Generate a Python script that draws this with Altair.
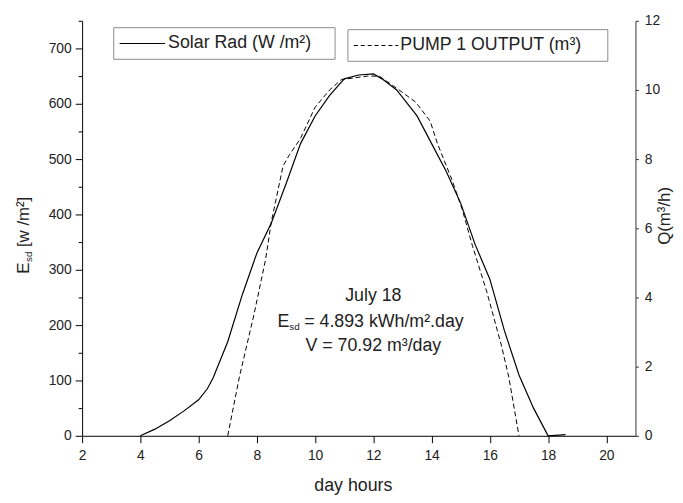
import altair as alt
import pandas as pd

# ---- data ----
solar_hours = [4, 4.5, 5, 5.5, 6, 6.3, 6.5, 7, 7.5, 8, 8.5, 9, 9.5, 10, 10.5, 11,
               11.5, 12, 12.3, 12.8, 13.5, 14, 14.5, 15, 15.5, 16, 16.5, 17, 17.5, 18, 18.6]
solar_wm2 = [0, 12, 27, 45, 65, 85, 105, 170, 255, 330, 385, 455, 528, 578, 615, 645,
             652, 654, 645, 625, 578, 528, 478, 420, 345, 283, 190, 110, 50, 0, 2]

pump_hours = [7, 7.4, 7.9, 8.3, 8.5, 8.9, 9.1, 9.5, 10, 10.5, 10.9, 11.8, 12.2, 12.8,
              13.45, 13.95, 14.2, 14.7, 15.05, 15.4, 15.9, 16.4, 16.65, 17]
pump_m3h = [0, 1.7, 3.5, 5.1, 6.2, 7.8, 8.1, 8.6, 9.5, 10.0, 10.3, 10.4, 10.4, 10.05,
            9.65, 9.1, 8.45, 7.4, 6.55, 5.5, 4.15, 2.6, 1.7, 0]

x_ticks = list(range(2, 22))
left_ticks = list(range(0, 751, 50))
right_ticks = [0, 2, 4, 6, 8, 10, 12]

annot_lines = ["July 18", "V = 70.92 m\u00b3/day"]
annot_y = [252, 162]
esd_value_text = "= 4.893 kWh/m\u00b2.day"
esd_y = [205]

legend_labels = ["Solar Rad (W  /m\u00b2)", "PUMP 1 OUTPUT (m\u00b3)"]

FONT = "Liberation Sans"
TXT = "#222222"

solar_df = pd.DataFrame({"hour": solar_hours, "W": solar_wm2})
pump_df = pd.DataFrame({"hour": pump_hours, "Q": pump_m3h})

x_scale = alt.Scale(domain=[2, 21], nice=False, zero=False)
left_scale = alt.Scale(domain=[0, 750], nice=False)
right_scale = alt.Scale(domain=[0, 12], nice=False)

x_axis = alt.Axis(
    values=x_ticks,
    labelExpr="datum.value % 2 == 0 && datum.value <= 20 ? datum.label : ''",
    tickSize={"condition": {"test": "datum.value % 2 == 0", "value": 7}, "value": 5},
    labelPadding=6, labelOverlap=False, labelFlush=False,
    grid=False, domainColor="black", tickColor="black",
    title="day hours", titleFont=FONT, titleFontSize=18, titleFontWeight="normal",
    titleColor=TXT, titleX=274, titleY=50, titleAlign="center", titleBaseline="middle",
)

left_axis = alt.Axis(
    values=left_ticks,
    labelExpr="datum.value % 100 == 0 && datum.value <= 700 ? datum.label : ''",
    tickSize={"condition": {"test": "datum.value % 100 == 0", "value": 7}, "value": 4},
    labelPadding=4, labelOverlap=False, labelFlush=False,
    grid=False, domainColor="black", tickColor="black", title=None,
)

right_axis = alt.Axis(
    orient="right", values=right_ticks, tickSize=3, labelPadding=6,
    labelOverlap=False, labelFlush=False, grid=False,
    domainColor="#333333", tickColor="#333333",
    title="Q(m\u00b3/h)", titleFont=FONT, titleFontSize=17, titleFontWeight="normal",
    titleColor=TXT, titleAngle=270, titleX=29, titleY=197,
    titleAlign="center", titleBaseline="middle",
)

solar = alt.Chart(solar_df).mark_line(color="black", strokeWidth=1.2).encode(
    x=alt.X("hour:Q", scale=x_scale, axis=x_axis),
    y=alt.Y("W:Q", scale=left_scale, axis=left_axis),
)

pump = alt.Chart(pump_df).mark_line(color="black", strokeWidth=1, strokeDash=[5, 3]).encode(
    x=alt.X("hour:Q", scale=x_scale),
    y=alt.Y("Q:Q", scale=right_scale, axis=right_axis),
)

annot_df = pd.DataFrame({"hour": [12, 12], "W": annot_y, "t": annot_lines})
annot = alt.Chart(annot_df).mark_text(font=FONT, fontSize=18, color=TXT, baseline="middle").encode(
    x=alt.X("hour:Q", scale=x_scale),
    y=alt.Y("W:Q", scale=left_scale, axis=None),
    text="t:N",
)

esd_df = pd.DataFrame({"hour": [12], "W": esd_y})
def esd_piece(txt, dx, dy, size):
    return alt.Chart(esd_df).mark_text(
        font=FONT, fontSize=size, color=TXT, align="left", baseline="middle",
        dx=dx, dy=dy, text=txt,
    ).encode(
        x=alt.X("hour:Q", scale=x_scale),
        y=alt.Y("W:Q", scale=left_scale, axis=None),
    )

esd_E = esd_piece("E", -97, 0, 18)
esd_sd = esd_piece("sd", -85, 5, 10)
esd_rest = esd_piece(esd_value_text, -70, 0, 18)

one = alt.Data(values=[{"a": 1}])

def box(x1, x2, y1, y2):
    return alt.Chart(one).mark_rect(fill="white", stroke="#8a8a8a", strokeWidth=1).encode(
        x=alt.value(x1), x2=alt.value(x2), y=alt.value(y1), y2=alt.value(y2))

def sample(x1, x2, y, dash):
    kw = {"strokeDash": dash} if dash else {}
    return alt.Chart(one).mark_rule(color="black", strokeWidth=1.2, **kw).encode(
        x=alt.value(x1), x2=alt.value(x2), y=alt.value(y))

def label(txt, x, y, size=18, align="left", angle=0):
    kw = {"angle": angle} if angle else {}
    return alt.Chart(one).mark_text(
        font=FONT, fontSize=size, color=TXT, align=align, baseline="middle", text=txt, **kw
    ).encode(x=alt.value(x), y=alt.value(y))

legend = [
    box(32, 256, 7, 39),
    sample(38, 84, 23, None),
    label(legend_labels[0], 87, 23),
    box(269, 532, 9, 41),
    sample(275, 320, 25, [4, 3]),
    label(legend_labels[1], 322, 25),
]

left_title = [
    label("E", -59, 256, 17, "left", 270),
    label("sd", -54, 244, 10, "left", 270),
    label("[w /m\u00b2]", -59, 229, 17, "left", 270),
]

chart = alt.layer(
    solar, pump, annot, esd_E, esd_sd, esd_rest, *legend, *left_title
).resolve_scale(y="independent").properties(
    width=560, height=420,
    autosize=alt.AutoSizeParams(type="none"),
    padding={"left": 75, "top": 10, "right": 40, "bottom": 57},
).configure_view(stroke=None).configure_axis(
    labelFont=FONT, labelFontSize=14, labelColor=TXT,
)

chart.save("out.html", embed_options={"renderer": "svg", "actions": False})
